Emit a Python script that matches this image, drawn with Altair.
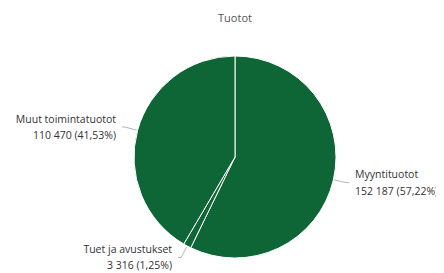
import altair as alt
import pandas as pd

categories = ["Myyntituotot", "Tuet ja avustukset", "Muut toimintatuotot"]
values = [152187, 3316, 110470]
value_labels = ["152 187", "3 316", "110 470"]
pct_labels = ["57,22%", "1,25%", "41,53%"]
order = [0, 1, 2]

df = pd.DataFrame({
    "cat": categories,
    "val": values,
    "vlab": value_labels,
    "plab": pct_labels,
    "ord": order,
})

CX, CY, R = 227, 125, 101
FONT = "Open Sans"

base = alt.Chart(df).transform_joinaggregate(
    total="sum(val)"
).transform_window(
    cum="sum(val)", sort=[alt.SortField("ord")], frame=[None, 0]
).transform_calculate(
    mid="2*PI*(datum.cum - datum.val/2)/datum.total",
).transform_calculate(
    sgn="sin(datum.mid) > 0 ? 1 : -1",
    lx1=f"{CX} + {R+1}*sin(datum.mid)",
    lx2=f"{CX} + {R+13}*sin(datum.mid)",
    ly1=f"{CY} - {R+1}*cos(datum.mid)",
    ly2=f"{CY} - {R+13}*cos(datum.mid)",
    label="[datum.cat, datum.vlab + ' (' + datum.plab + ')']",
).transform_calculate(
    hx2="datum.lx2 + 3*datum.sgn",
    tx="datum.lx2 + 9*datum.sgn",
    ty="datum.ly2 - 7.5",
)

arcs = alt.Chart(df).mark_arc(
    stroke="white", strokeWidth=1, color="#0e6536", radius=R
).encode(
    theta=alt.Theta("val:Q", stack=True),
    order=alt.Order("ord:Q"),
    x=alt.value(CX), y=alt.value(CY),
)

lines = base.mark_rule(color="#b5b5b5", strokeWidth=1).encode(
    x=alt.X("lx1:Q", scale=None),
    x2="lx2:Q",
    y=alt.Y("ly1:Q", scale=None),
    y2="ly2:Q",
)
hlines = base.mark_rule(color="#b5b5b5", strokeWidth=1).encode(
    x=alt.X("lx2:Q", scale=None),
    x2="hx2:Q",
    y=alt.Y("ly2:Q", scale=None),
    y2="ly2:Q",
)

def labels(side, align):
    cond = "sin(datum.mid) > 0" if side == "right" else "sin(datum.mid) <= 0"
    return base.transform_filter(cond).mark_text(
        align=align, baseline="middle", font=FONT,
        fontSize=10.5, color="#333333", lineHeight=16.5,
    ).encode(
        x=alt.X("tx:Q", scale=None),
        y=alt.Y("ty:Q", scale=None),
        text="label:N",
    )

right = labels("right", "left")
left = labels("left", "right")

chart = alt.layer(arcs, lines, hlines, right, left).properties(
    width=428, height=241,
    title=alt.TitleParams("Tuotot", font=FONT, fontSize=11, fontWeight="normal",
                          color="#555555", dx=13, offset=8),
    autosize=alt.AutoSizeParams(type="none"),
    padding={"left": 0, "top": 24, "right": 0, "bottom": 0},
).configure_view(stroke=None)

chart.save("out.html", embed_options={"renderer": "svg", "actions": False})
